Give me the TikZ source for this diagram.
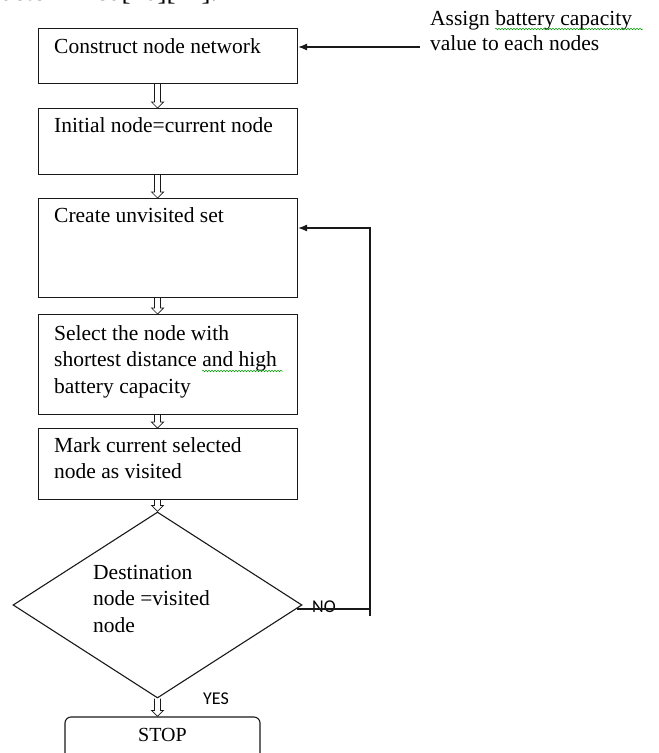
\documentclass[tikz,border=0pt]{standalone}
\usepackage{fontspec}
\setmainfont{Liberation Serif}
\newfontfamily\labelfont{Carlito}
\usetikzlibrary{shapes.geometric,arrows.meta,calc,decorations.pathmorphing}
\newcommand\harrow[2]{\draw[harr] let \p1=(#1), \p2=(#2) in (\x1-3pt,\y1) -- (\x1-3pt,\y2+6pt) -- (\x1-6pt,\y2+6pt) -- (\x1,\y2) -- (\x1+6pt,\y2+6pt) -- (\x1+3pt,\y2+6pt) -- (\x1+3pt,\y1);}
\begin{document}
\begin{tikzpicture}[x=1pt,y=-1pt,
  box/.style={draw=black!90, line width=1.1pt, rectangle, inner sep=0, anchor=north west, minimum width=259pt},
  txt/.style={anchor=north west, inner sep=0, align=left, font=\fontsize{21.5}{26.5}\selectfont, text=black},
  lbl/.style={inner sep=0, anchor=base west, font=\labelfont\fontsize{18}{20}\selectfont},
  arr/.style={draw=black!90, line width=1.1pt, -{Latex[length=9pt,width=7pt]}},
  harr/.style={draw=black!90, line width=0.7pt, fill=white},
  squig/.style={draw=green!60!black, line width=0.5pt, decorate, decoration={snake, segment length=3pt, amplitude=0.8pt}}
]
\useasboundingbox (0,0) rectangle (659,753);
\clip (0,0) rectangle (659,753);

% partially visible text of the page above
\node[anchor=base west, inner sep=0, font=\fontsize{27}{30}\selectfont] (prev) at (0,0.5) {determined[10][11].};

% boxes
\node[box, minimum height=55pt] (b1) at (38,28) {};
\node[box, minimum height=66pt] (b2) at (38,108) {};
\node[box, minimum height=99pt] (b3) at (38,198) {};
\node[box, minimum height=100pt] (b4) at (38,314) {};
\node[box, minimum height=71pt] (b5) at (38,428) {};
\node[draw=black!90, line width=1.1pt, diamond, minimum width=289pt, minimum height=186pt, inner sep=0] (d) at (157.5,605) {};
\node[draw=black!90, line width=1.1pt, rounded corners=6pt, minimum width=195pt, minimum height=50pt, inner sep=0] (stop) at (162.5,742) {};

% texts
\node[txt] (t1) at (54,38) {Construct node network};
\node[txt] (t2) at (54,117) {Initial node=current node};
\node[txt] (t3) at (54,207) {Create unvisited set};
\node[txt] (t4) at (54,325) {Select the node with\\shortest distance and  high\\battery capacity};
\node[txt] (t5) at (54,437) {Mark current selected\\node as visited};
\node[txt] (td) at (93,565) {Destination\\node =visited\\node};
\node[inner sep=0, font=\fontsize{20}{24}\selectfont] (stopt) at (162.5,735) {STOP};
\node[txt, font=\fontsize{21.5}{25}\selectfont] (assign) at (430,10) {Assign battery  capacity\\value to each nodes};
\node[lbl] (no) at (312,612) {NO};
\node[lbl] (yes) at (203,704) {YES};

% spell-check marks
\draw[squig] (495,29) -- (643,29);
\draw[squig] (202,371) -- (283,371);

% hollow arrows
\harrow{b1.south -| d.north}{b2.north -| d.north}
\harrow{b2.south -| d.north}{b3.north -| d.north}
\harrow{b3.south -| d.north}{b4.north -| d.north}
\harrow{b4.south -| d.north}{b5.north -| d.north}
\harrow{b5.south -| d.north}{d.north}
\harrow{d.south}{stop.north -| d.south}

% connectors
\coordinate (src) at (420,47);
\draw[arr] (src) -- (src -| b1.east);
\coordinate (dno) at ($(d.east)+(-6,4)$);
\coordinate (fbx) at (370,228);
\draw[arr] (dno) -- (dno -| fbx) -- (fbx) -- (fbx -| b3.east);
\draw[draw=black!90, line width=1.1pt] (dno -| fbx) -- ++(0,7);
\end{tikzpicture}
\end{document}
